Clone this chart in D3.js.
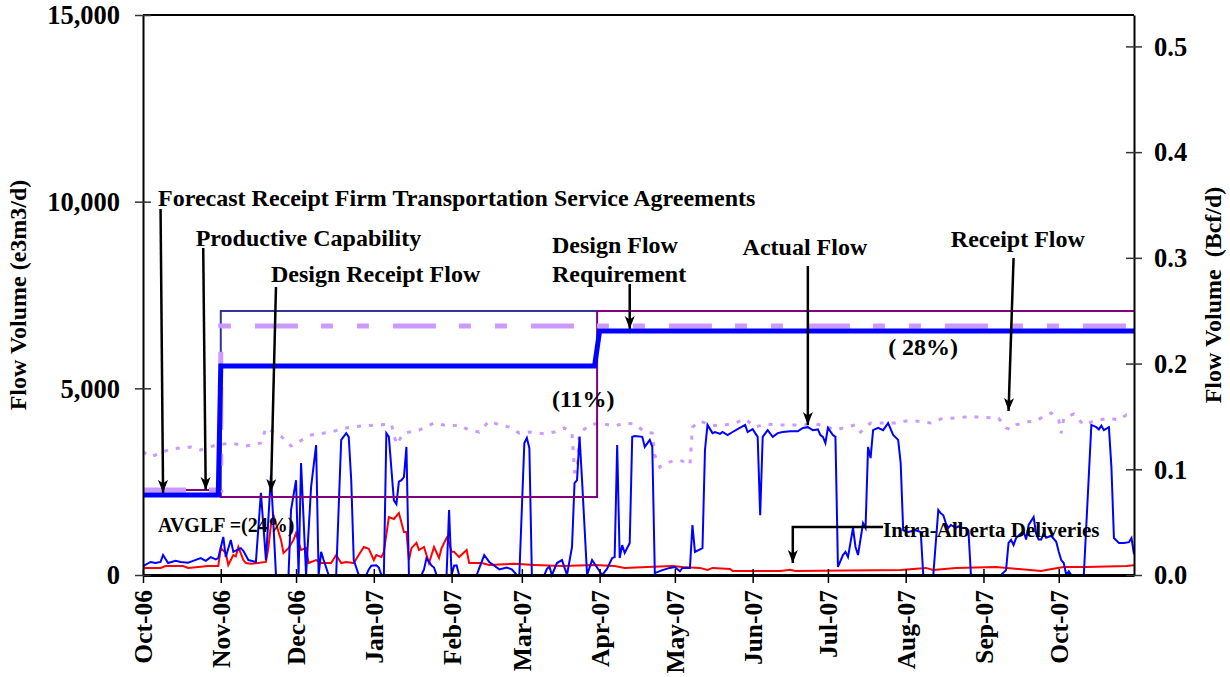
<!DOCTYPE html>
<html><head><meta charset="utf-8">
<script src="https://cdn.jsdelivr.net/npm/d3@7"></script>
<style>
html,body{margin:0;padding:0;background:#fff;}
svg{display:block;font-family:"Liberation Serif","Times New Roman",serif;font-weight:bold;}
svg text{font-family:"Liberation Serif","Times New Roman",serif;font-weight:bold;}
</style></head><body>
<svg id="chart" width="1230" height="677"></svg>
<script>
// ---------------- DATA ----------------
const monthTicks = ["2006-10-01","2006-11-01","2006-12-01","2007-01-01","2007-02-01","2007-03-01","2007-04-01","2007-05-01","2007-06-01","2007-07-01","2007-08-01","2007-09-01","2007-10-01"];
const monthLabels = ["Oct-06","Nov-06","Dec-06","Jan-07","Feb-07","Mar-07","Apr-07","May-07","Jun-07","Jul-07","Aug-07","Sep-07","Oct-07"];
const leftTicks = [0, 5000, 10000, 15000];
const rightTicks = [0, 0.1, 0.2, 0.3, 0.4, 0.5];
const bcfPerE3m3 = 0.0353147 / 1000;

// Forecast Receipt Firm Transportation Service Agreements (thick blue)
const forecastFT = [["2006-10-01",2140],["2006-10-31",2140],["2006-11-01",5600],["2007-03-30",5600],["2007-04-01",6536],["2007-10-31",6536]];
// Productive capability (navy)
const productiveCap = [["2006-11-01",2275],["2006-11-01",7070],["2007-03-31",7070]];
// Design receipt flow (purple)
const designReceipt = [["2006-10-01",2275],["2006-11-01",2275],["2006-11-01",2090],["2007-03-31",2090],["2007-03-31",7070],["2007-10-31",7070]];
// Design flow requirement (lavender dashed)
const designFlowReq = [["2006-10-01",2275],["2006-11-01",2275],["2006-11-01",6670],["2007-10-31",6670]];

// Receipt flow (lavender dotted)
const receiptFlow = [["2006-10-01",3300],["2006-10-04",3160],["2006-10-12",3375],["2006-10-20",3430],["2006-10-24",3350],["2006-10-30",3480],["2006-11-05",3535],["2006-11-11",3455],["2006-11-17",3535],["2006-11-19",3940],["2006-11-25",3720],["2006-11-29",3455],["2006-12-07",3750],["2006-12-15",3830],["2006-12-21",3940],["2006-12-27",3990],["2007-01-02",4020],["2007-01-08",4045],["2007-01-10",3500],["2007-01-13",3800],["2007-01-19",3880],["2007-01-25",4070],["2007-01-31",3990],["2007-02-04",4020],["2007-02-08",3880],["2007-02-12",3830],["2007-02-16",4125],["2007-02-20",4020],["2007-02-24",3960],["2007-02-28",3800],["2007-03-04",3830],["2007-03-10",3780],["2007-03-14",3830],["2007-03-18",3940],["2007-03-21",3800],["2007-03-22",2760],["2007-03-23",2760],["2007-03-24",3800],["2007-03-28",4020],["2007-04-01",4070],["2007-04-07",3990],["2007-04-11",4070],["2007-04-15",4045],["2007-04-19",3830],["2007-04-22",3800],["2007-04-23",3210],["2007-04-25",2890],["2007-04-29",3030],["2007-05-03",3080],["2007-05-07",2950],["2007-05-08",3960],["2007-05-11",4125],["2007-05-15",4020],["2007-05-19",3990],["2007-05-25",4070],["2007-05-29",4180],["2007-06-02",3960],["2007-06-06",4045],["2007-06-12",4020],["2007-06-20",4020],["2007-06-26",4045],["2007-06-30",3990],["2007-07-04",3880],["2007-07-08",3960],["2007-07-12",4020],["2007-07-14",3830],["2007-07-18",4070],["2007-07-28",4070],["2007-08-01",4125],["2007-08-05",4125],["2007-08-11",4070],["2007-08-15",4180],["2007-08-19",4200],["2007-08-25",4230],["2007-08-31",4230],["2007-09-07",4200],["2007-09-10",3940],["2007-09-12",3900],["2007-09-14",4020],["2007-09-18",4100],["2007-09-22",4125],["2007-09-26",4290],["2007-09-28",4340],["2007-10-01",4150],["2007-10-02",3800],["2007-10-03",4200],["2007-10-07",4310],["2007-10-11",4020],["2007-10-15",4125],["2007-10-21",4200],["2007-10-25",4150],["2007-10-28",4290],["2007-10-31",4200]];

// Actual flow (blue)
const actualFlow = [["2006-10-01",240],["2006-10-04",350],["2006-10-06",320],["2006-10-08",350],["2006-10-09",535],["2006-10-11",320],["2006-10-14",380],["2006-10-16",350],["2006-10-19",330],["2006-10-21",380],["2006-10-24",455],["2006-10-26",380],["2006-10-28",480],["2006-10-30",420],["2006-10-31",455],
["2006-11-02",1020],["2006-11-03",480],["2006-11-05",940],["2006-11-06",620],["2006-11-09",720],["2006-11-10",650],["2006-11-12",400],["2006-11-15",350],["2006-11-17",2200],["2006-11-19",400],["2006-11-21",2680],["2006-11-23",0],["2006-11-28",0],["2006-11-29",1740],
["2006-12-01",2540],["2006-12-02",0],["2006-12-03",3000],["2006-12-05",0],["2006-12-07",2360],["2006-12-09",3480],["2006-12-10",0],["2006-12-11",620],["2006-12-12",400],["2006-12-14",0],["2006-12-17",0],["2006-12-19",3620],["2006-12-21",3800],["2006-12-22",3700],["2006-12-23",2540],["2006-12-24",400],["2006-12-26",0],["2006-12-29",0],["2006-12-30",150],["2006-12-31",250],
["2007-01-02",260],["2007-01-03",200],["2007-01-04",0],["2007-01-05",0],["2007-01-06",3800],["2007-01-07",3700],["2007-01-09",2000],["2007-01-10",1900],["2007-01-11",2500],["2007-01-12",2540],["2007-01-13",2625],["2007-01-14",3430],["2007-01-15",0],["2007-01-20",0],["2007-01-21",150],["2007-01-22",455],["2007-01-24",250],["2007-01-25",200],["2007-01-26",0],["2007-01-30",0],["2007-01-31",1740],
["2007-02-01",0],["2007-02-02",250],["2007-02-03",260],["2007-02-04",0],["2007-02-11",0],["2007-02-14",535],["2007-02-16",350],["2007-02-19",200],["2007-02-20",150],["2007-02-23",200],["2007-02-25",150],["2007-02-27",0],["2007-02-28",0],
["2007-03-02",3535],["2007-03-03",3670],["2007-03-04",3400],["2007-03-05",0],["2007-03-10",0],["2007-03-11",165],["2007-03-12",220],["2007-03-13",0],["2007-03-15",320],["2007-03-17",400],["2007-03-19",0],["2007-03-21",750],["2007-03-22",2460],["2007-03-23",2540],["2007-03-24",3700],["2007-03-25",2540],["2007-03-27",0],["2007-03-29",400],["2007-03-31",200],
["2007-04-02",0],["2007-04-04",170],["2007-04-06",455],["2007-04-07",480],["2007-04-08",3480],["2007-04-09",455],["2007-04-10",800],["2007-04-11",590],["2007-04-13",860],["2007-04-14",3700],["2007-04-15",3720],["2007-04-18",3700],["2007-04-19",3430],["2007-04-21",3620],["2007-04-22",3430],["2007-04-23",50],["2007-04-26",130],["2007-04-29",190],
["2007-05-01",215],["2007-05-03",100],["2007-05-04",190],["2007-05-07",190],["2007-05-08",1340],["2007-05-09",620],["2007-05-12",720],["2007-05-13",3350],["2007-05-14",4020],["2007-05-16",3800],["2007-05-17",3830],["2007-05-19",3780],["2007-05-20",3830],["2007-05-22",3750],["2007-05-24",3830],["2007-05-26",3910],["2007-05-29",4020],["2007-05-30",3830],
["2007-06-01",3910],["2007-06-02",3800],["2007-06-03",3700],["2007-06-04",1600],["2007-06-05",3700],["2007-06-07",3880],["2007-06-09",3700],["2007-06-11",3800],["2007-06-13",3830],["2007-06-16",3850],["2007-06-19",3850],["2007-06-21",3940],["2007-06-23",3960],["2007-06-25",3880],["2007-06-27",3900],["2007-06-28",3750],["2007-06-29",3700],["2007-06-30",3535],
["2007-07-01",3940],["2007-07-03",3750],["2007-07-04",3700],["2007-07-05",215],["2007-07-07",535],["2007-07-08",620],["2007-07-09",480],["2007-07-11",1260],["2007-07-12",750],["2007-07-13",535],["2007-07-15",1390],["2007-07-16",1260],["2007-07-17",3430],["2007-07-18",3130],["2007-07-19",3880],["2007-07-21",3940],["2007-07-23",3880],["2007-07-25",4070],["2007-07-27",3750],["2007-07-29",3620],["2007-07-30",3000],["2007-07-31",1200],
["2007-08-02",1150],["2007-08-05",1200],["2007-08-07",1150],["2007-08-08",0],["2007-08-12",0],["2007-08-14",1740],["2007-08-15",1650],["2007-08-16",1600],["2007-08-17",1390],["2007-08-18",1260],["2007-08-19",1340],["2007-08-21",1260],["2007-08-22",1300],["2007-08-23",1260],["2007-08-25",1260],["2007-08-26",1200],["2007-08-27",0],
["2007-09-08",0],["2007-09-10",130],["2007-09-11",860],["2007-09-12",940],["2007-09-13",800],["2007-09-14",990],["2007-09-16",1120],["2007-09-17",1180],["2007-09-18",950],["2007-09-19",1340],["2007-09-21",1550],["2007-09-22",1100],["2007-09-23",950],["2007-09-24",950],["2007-09-25",1120],["2007-09-26",1000],["2007-09-28",1050],["2007-09-30",890],
["2007-10-01",620],["2007-10-02",400],["2007-10-03",320],["2007-10-04",0],["2007-10-05",100],["2007-10-06",0],["2007-10-11",0],["2007-10-14",4020],["2007-10-16",3960],["2007-10-17",3900],["2007-10-18",4000],["2007-10-19",3880],["2007-10-21",3960],["2007-10-22",2890],["2007-10-23",990],["2007-10-25",860],["2007-10-27",860],["2007-10-29",880],["2007-10-30",990],["2007-10-31",550]];

// Intra-Alberta deliveries (red)
const intraAlberta = [["2006-10-01",190],["2006-10-08",190],["2006-10-10",240],["2006-10-17",240],["2006-10-19",190],["2006-10-27",240],["2006-10-31",240],["2006-11-01",720],["2006-11-03",590],["2006-11-04",270],["2006-11-06",535],["2006-11-07",500],["2006-11-08",750],["2006-11-10",400],["2006-11-11",320],["2006-11-13",300],["2006-11-19",350],["2006-11-20",750],["2006-11-21",1340],["2006-11-22",1600],["2006-11-25",940],["2006-11-26",590],["2006-11-28",720],["2006-11-30",940],["2006-12-01",1120],["2006-12-03",670],["2006-12-05",720],["2006-12-06",320],["2006-12-09",400],["2006-12-11",320],["2006-12-15",320],["2006-12-17",535],["2006-12-19",320],["2006-12-21",350],["2006-12-24",320],["2006-12-26",535],["2006-12-28",750],["2006-12-30",700],["2007-01-01",400],["2007-01-02",535],["2007-01-04",480],["2007-01-05",620],["2007-01-07",1550],["2007-01-09",1500],["2007-01-11",1660],["2007-01-13",1150],["2007-01-14",1150],["2007-01-15",400],["2007-01-16",720],["2007-01-18",860],["2007-01-19",670],["2007-01-21",750],["2007-01-23",320],["2007-01-24",535],["2007-01-25",750],["2007-01-27",455],["2007-01-28",720],["2007-01-30",990],["2007-01-31",860],["2007-02-01",620],["2007-02-02",620],["2007-02-04",480],["2007-02-07",670],["2007-02-08",320],["2007-02-13",320],["2007-02-16",270],["2007-02-26",300],["2007-03-06",270],["2007-03-17",240],["2007-03-30",270],["2007-04-07",240],["2007-04-11",190],["2007-04-20",215],["2007-04-30",240],["2007-05-04",215],["2007-05-11",190],["2007-05-14",135],["2007-05-16",190],["2007-05-23",160],["2007-05-24",110],["2007-06-12",110],["2007-06-16",140],["2007-06-18",110],["2007-07-30",135],["2007-08-09",190],["2007-08-12",135],["2007-08-21",190],["2007-09-06",215],["2007-09-24",110],["2007-09-26",135],["2007-10-03",215],["2007-10-12",215],["2007-10-28",240],["2007-10-31",260]];

// Annotations (positions in data coordinates)
const labels = [
  {t:"Forecast Receipt Firm Transportation Service Agreements", at:["2006-10-07",9884], size:24},
  {t:"Productive Capability", at:["2006-10-22",8813], size:24},
  {t:"Design Receipt Flow", at:["2006-11-21",7848], size:24},
  {t:"Design Flow", at:["2007-03-13",8625], size:24},
  {t:"Requirement", at:["2007-03-13",7848], size:24},
  {t:"Actual Flow", at:["2007-05-28",8571], size:24},
  {t:"Receipt Flow", at:["2007-08-19",8786], size:24},
  {t:"(11%)", at:["2007-03-13",4500], size:24},
  {t:"( 28%)", at:["2007-07-25",5893], size:24},
  {t:"AVGLF =(24%)", at:["2006-10-07",1152], size:20},
  {t:"Intra-Alberta Deliveries", at:["2007-07-23",1018], size:21}
];
const arrows = [
  [["2006-10-08",9804],["2006-10-09",2200]],
  [["2006-10-25",8759],["2006-10-26",2277]],
  [["2006-11-23",7714],["2006-11-21",2223]],
  [["2007-04-13",7795],["2007-04-13",6590]],
  [["2007-06-23",8277],["2007-06-23",4018]],
  [["2007-09-13",8491],["2007-09-11",4393]],
  [["2007-07-23",1286],["2007-06-17",1286],["2007-06-17",321]]
];

// ---------------- CHART ----------------
const FONT = '"Liberation Serif","Times New Roman",serif';
const P = d3.utcParse("%Y-%m-%d");
const svg = d3.select("#chart");
const x = d3.scaleUtc().domain([P("2006-10-01"), P("2007-10-31")]).range([143, 1134]);
const y = d3.scaleLinear().domain([0, 15000]).range([575, 15]);
const y2 = d3.scaleLinear().domain([0, 15000 * bcfPerE3m3]).range([575, 15]);
const line = d3.line().x(d => x(P(d[0]))).y(d => y(d[1]));

svg.append("defs").append("marker")
  .attr("id","ah").attr("markerUnits","userSpaceOnUse")
  .attr("markerWidth",14).attr("markerHeight",12)
  .attr("refX",13).attr("refY",5).attr("orient","auto")
  .append("path").attr("d","M0,0 L13,5 L0,10 L3.5,5 Z").attr("fill","#000");

function series(data, color, width, dash) {
  svg.append("path").datum(data).attr("d", line)
    .attr("fill","none").attr("stroke",color).attr("stroke-width",width)
    .attr("stroke-linejoin","miter").attr("stroke-dasharray", dash || null);
}

series(receiptFlow, "#CC99FF", 3, "4,8");
series(intraAlberta, "#FF0000", 2);
series(actualFlow, "#0000FF", 2);
series(productiveCap, "#333399", 2);
series(designReceipt, "#800080", 2);
series(designFlowReq, "#CC99FF", 5, "43,23,12,24,12,24");
series(forecastFT, "#0000FF", 5);

// frame
svg.append("line").attr("x1",x.range()[0]).attr("x2",x.range()[1]).attr("y1",y(15000)).attr("y2",y(15000)).attr("stroke","#000").attr("stroke-width",2);

function styleTicks(g, size) {
  g.attr("font-family", null).attr("font-size", null);
  g.selectAll(".tick text").attr("fill","#000")
    .style("font-family", FONT).style("font-weight","bold").style("font-size", size + "px");
}

// axes
const gx = svg.append("g").attr("transform",`translate(0,${y(0)})`)
  .call(d3.axisBottom(x).tickValues(monthTicks.map(P)).tickFormat((d,i)=>monthLabels[i]).tickSizeOuter(0));
gx.select(".domain").attr("stroke","#000").attr("stroke-width",3);
gx.selectAll(".tick line").attr("y1",-6).attr("y2",8).attr("stroke","#000").attr("stroke-width",1.5);
gx.selectAll(".tick text").attr("transform","rotate(-90)").attr("x",-15).attr("y",0).attr("dy","0.35em")
  .attr("text-anchor","end");
styleTicks(gx, 25.5);

const gl = svg.append("g").attr("transform",`translate(${x.range()[0]},0)`)
  .call(d3.axisLeft(y).tickValues(leftTicks).tickFormat(d3.format(",")).tickSizeOuter(0));
gl.select(".domain").attr("stroke","#000").attr("stroke-width",2);
gl.selectAll(".tick line").attr("x1",-8).attr("x2",8).attr("stroke","#333").attr("stroke-width",1.5);
gl.selectAll(".tick text").attr("x",-23).attr("dy","0.33em");
styleTicks(gl, 26.5);

const gr = svg.append("g").attr("transform",`translate(${x.range()[1]},0)`)
  .call(d3.axisRight(y2).tickValues(rightTicks).tickFormat(d3.format(".1f")).tickSizeOuter(0));
gr.select(".domain").attr("stroke","#000").attr("stroke-width",2);
gr.selectAll(".tick line").attr("x1",-8).attr("x2",8).attr("stroke","#333").attr("stroke-width",1.5);
gr.selectAll(".tick text").attr("x",20).attr("dy","0.33em");
styleTicks(gr, 26.5);

// axis titles
svg.append("text").attr("transform",`translate(18,${(y(0)+y(15000))/2}) rotate(-90)`)
  .attr("text-anchor","middle").attr("dy","0.35em").style("font-size","24px").text("Flow Volume (e3m3/d)");
svg.append("text").attr("transform",`translate(1213,${(y(0)+y(15000))/2}) rotate(-90)`)
  .attr("text-anchor","middle").attr("dy","0.35em").style("font-size","24px").style("white-space","pre").text("Flow Volume  (Bcf/d)");

// arrows
arrows.forEach(a => {
  svg.append("path").datum(a).attr("d", line).attr("fill","none")
    .attr("stroke","#000").attr("stroke-width",2.5).attr("marker-end","url(#ah)");
});
// labels
labels.forEach(l => {
  svg.append("text").attr("x", x(P(l.at[0]))).attr("y", y(l.at[1]))
    .style("font-size", l.size+"px").style("white-space","pre").attr("fill","#000").text(l.t);
});
</script>
</body></html>
